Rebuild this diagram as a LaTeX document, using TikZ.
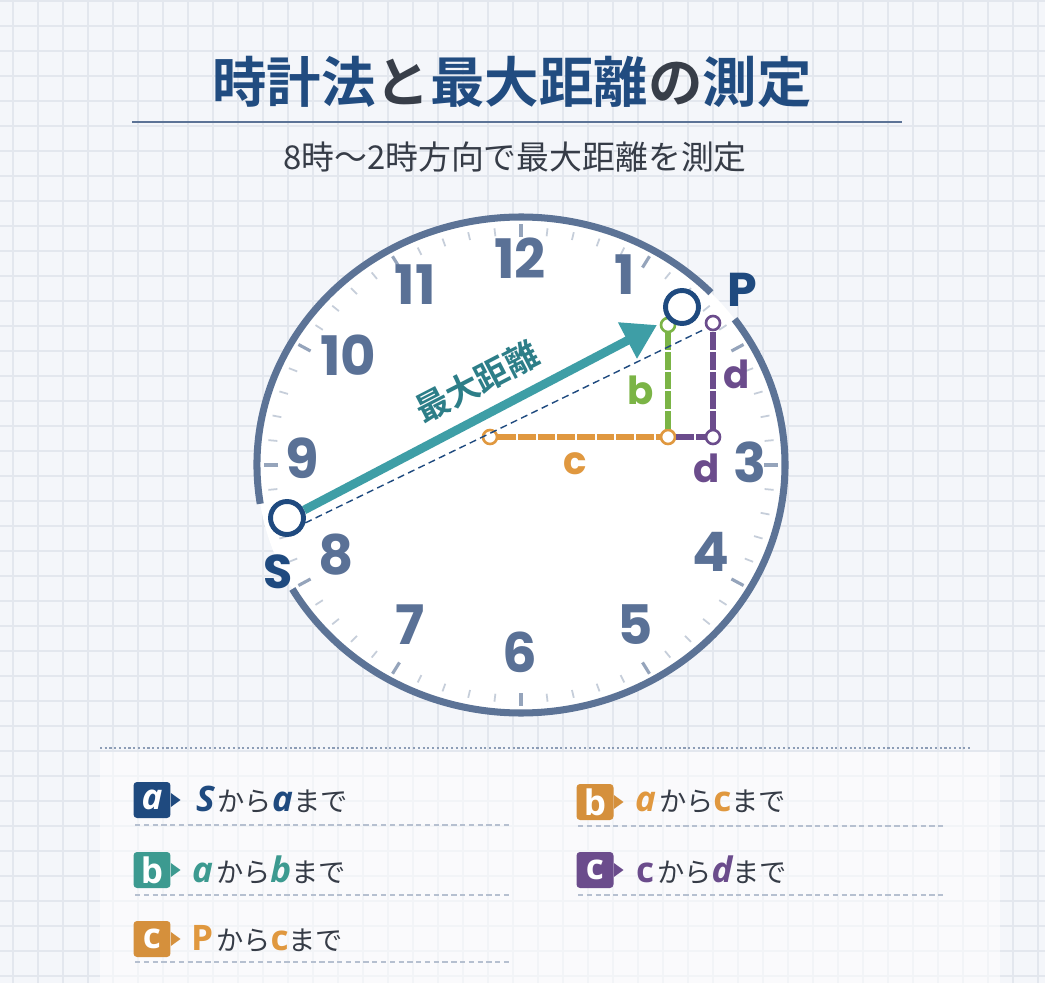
\documentclass[tikz,border=0pt]{standalone}
\usepackage{fontspec}
\usetikzlibrary{arrows.meta,positioning}
\newfontfamily\jp{Noto Sans CJK JP}
\newfontfamily\jpb{Noto Sans CJK JP Bold}
\newfontfamily\numfont{Poppins}
\newfontfamily\legfont{Open Sans}

\definecolor{bgcol}{HTML}{F4F6FA}
\definecolor{gridcol}{HTML}{E3E7EE}
\definecolor{navyc}{HTML}{1F4A7F}
\definecolor{darkc}{HTML}{363C47}
\definecolor{ringc}{HTML}{5C7396}
\definecolor{numc}{HTML}{5A7196}
\definecolor{tealc}{HTML}{3E9EA6}
\definecolor{tealtxt}{HTML}{2D7E88}
\definecolor{legteal}{HTML}{3C9A90}
\definecolor{orangec}{HTML}{E0983F}
\definecolor{greenc}{HTML}{7BB446}
\definecolor{purplec}{HTML}{6B4C8C}

\newcommand{\lt}{\legfont\bfseries\itshape\fontsize{20}{20}\selectfont}
\newcommand{\lu}{\legfont\bfseries\fontsize{20}{20}\selectfont}
\newcommand{\lj}{\jp\fontsize{15.5}{15.5}\selectfont\color{darkc}}

\tikzset{
  num/.style={font=\numfont\bfseries\fontsize{31}{31}\selectfont, text=numc, inner sep=0pt},
  ring/.style={draw=ringc, line width=4pt},
  mtick/.style={draw=ringc!35, line width=1pt},
  htick/.style={draw=ringc!65, line width=1.8pt},
  endpt/.style={circle, draw=#1, fill=white, line width=1.5pt, minimum size=0.28cm, inner sep=0pt},
  bigpt/.style={circle, draw=navyc, fill=white, line width=2.8pt, minimum size=0.66cm, inner sep=0pt},
  seg/.style={draw=#1, line width=3.6pt, dash pattern=on 10pt off 1.2pt},
  seglab/.style={font=\numfont\bfseries\fontsize{22}{22}\selectfont, text=#1, inner sep=0pt},
  legbox/.style={fill=#1, rounded corners=2pt, minimum width=0.74cm, minimum height=0.72cm, inner sep=0pt, text=white},
  legtxt/.style={inner sep=0pt, anchor=west},
  legline/.style={draw=ringc!45, line width=0.8pt, dash pattern=on 3pt off 2pt}
}

\begin{document}
\begin{tikzpicture}[x=0.02cm,y=-0.02cm]
\useasboundingbox (0,0) rectangle (1045,983);
\fill[bgcol] (0,0) rectangle (1045,983);
% grid
\foreach \x in {13,38,...,1045}
  \draw[gridcol, line width=0.7pt] (\x,0) -- (\x,983);
\foreach \y in {1,26,...,983}
  \draw[gridcol, line width=0.7pt] (0,\y) -- (1045,\y);

% title
\node[text opacity=0.99] (title) at (512,82) {\jpb\fontsize{31}{31}\selectfont
  \color{navyc}時計法\color{darkc}と\color{navyc}最大距離\color{darkc}の\color{navyc}測定};
\draw[ringc, line width=1.2pt] (132,122) -- (902,122);
\node (sub) at (515,157) {\jp\fontsize{18.7}{18.7}\selectfont\color{darkc}8時〜2時方向で最大距離を測定};

% clock
\coordinate (ck) at (521,465);
\fill[white] (ck) ellipse [x radius=264, y radius=248];
\foreach \m in {0,...,59} {
  \pgfmathtruncatemacro\r{mod(\m,5)}
  \ifnum\r=0
    \draw[htick] ([shift={(\m*6:243 and 228)}]ck) -- ([shift={(\m*6:257 and 241)}]ck);
  \else
    \draw[mtick] ([shift={(\m*6:245 and 230)}]ck) -- ([shift={(\m*6:254 and 238)}]ck);
  \fi
}
\draw[ring] (ck) ++(-36:264 and 248) arc[start angle=-36, end angle=150, x radius=264, y radius=248];
\draw[ring] (ck) ++(171:264 and 248) arc[start angle=171, end angle=316, x radius=264, y radius=248];

% hour numbers
\node[num] (h12) at (520,258) {12};
\node[num] (h1) at (625,275) {1};
\node[num] (h11) at (415,285) {11};
\node[num] (h10) at (348,355) {10};
\node[num] (h9) at (302,458) {9};
\node[num] (h8) at (336,555) {8};
\node[num] (h7) at (410,625) {7};
\node[num] (h6) at (520,652) {6};
\node[num] (h5) at (635,625) {5};
\node[num] (h4) at (711,552) {4};
\node[num] (h3) at (750,462) {3};

% measuring lines
\node[endpt=orangec] (cstart) at (490,437) {};
\node[endpt=orangec] (corner) at (668,437) {};
\node[endpt=greenc] (btop) at (668,325) {};
\node[endpt=purplec] (dcorner) at (713,437) {};
\node[endpt=purplec] (dtop) at (713,323) {};
\draw[seg=orangec] (cstart) -- (corner);
\draw[seg=greenc] (corner) -- (btop);
\draw[seg=purplec] (corner) -- (dcorner);
\draw[seg=purplec] (dcorner) -- (dtop);
\node[seglab=orangec] (lc) at (575,464) {c};
\node[seglab=greenc] (lb) at (641,390) {b};
\node[seglab=purplec] (ld1) at (737,374) {d};
\node[seglab=purplec] (ld2) at (707,468) {d};

% S and P
\node[bigpt] (Sdot) at (287,518) {};
\node[bigpt] (Pdot) at (682,307) {};
\node[font=\numfont\bfseries\fontsize{27}{27}\selectfont, text=navyc, inner sep=0pt] (Slab) at (278,572) {S};
\node[font=\numfont\bfseries\fontsize{27}{27}\selectfont, text=navyc, inner sep=0pt] (Plab) at (742,290) {P};
\coordinate (dashend) at (703,330);
\coordinate (tip) at (657,325);
\draw[navyc, line width=0.8pt, dash pattern=on 4pt off 2.5pt] (Sdot.-15) -- (dashend);
\draw[tealc, line width=5pt, -{Triangle[length=19pt, width=22pt]}] (Sdot.25) -- (tip);
\node[rotate=27.3, text=tealtxt, inner sep=0pt] (maxd) at (477,382)
  {\jpb\fontsize{19}{19}\selectfont 最大距離};

% legend
\fill[white, opacity=0.55] (100,752) rectangle (1000,983);
\draw[ringc!70, line width=0.8pt, dash pattern=on 1.2pt off 1.5pt] (100,748) -- (970,748);

\node[legbox=navyc] (ka) at (152,800) {\lt a};
\node[legbox=legteal] (kb) at (152,870) {\lu b};
\node[legbox=orangec!95!black] (kc) at (152,939) {\lu c};
\node[legbox=orangec!95!black] (kb2) at (595,802) {\lu b};
\node[legbox=purplec] (kc2) at (595,870) {\lu c};
\foreach \k/\c in {ka/navyc, kb/legteal, kc/orangec!95!black, kb2/orangec!95!black, kc2/purplec}
  \fill[\c] ([yshift=4pt]\k.east) -- ++(5.5pt,-4pt) -- ++(-5.5pt,-4pt) -- cycle;

\node[legtxt, right=0.5cm of ka] (ta) {{\lt\color{navyc}S}\,{\lj から}{\lt\color{navyc}a}{\lj まで}};
\node[legtxt, right=0.42cm of kb] (tb) {{\lt\color{legteal}a}\,{\lj から}{\lt\color{legteal}b}{\lj まで}};
\node[legtxt, right=0.4cm of kc] (tc) {{\lu\color{orangec}P}\,{\lj から}{\lu\color{orangec}c}{\lj まで}};
\node[legtxt, right=0.42cm of kb2] (tb2) {{\lt\color{orangec}a}\,{\lj から}{\lu\color{orangec}c}{\lj まで}};
\node[legtxt, right=0.44cm of kc2] (tc2) {{\lu\color{purplec}c}\,{\lj から}{\lt\color{purplec}d}{\lj まで}};

\draw[legline] (135,825) -- (510,825);
\draw[legline] (135,895) -- (510,895);
\draw[legline] (135,962) -- (510,962);
\draw[legline] (578,826) -- (946,826);
\draw[legline] (578,895) -- (946,895);
\end{tikzpicture}
\end{document}
